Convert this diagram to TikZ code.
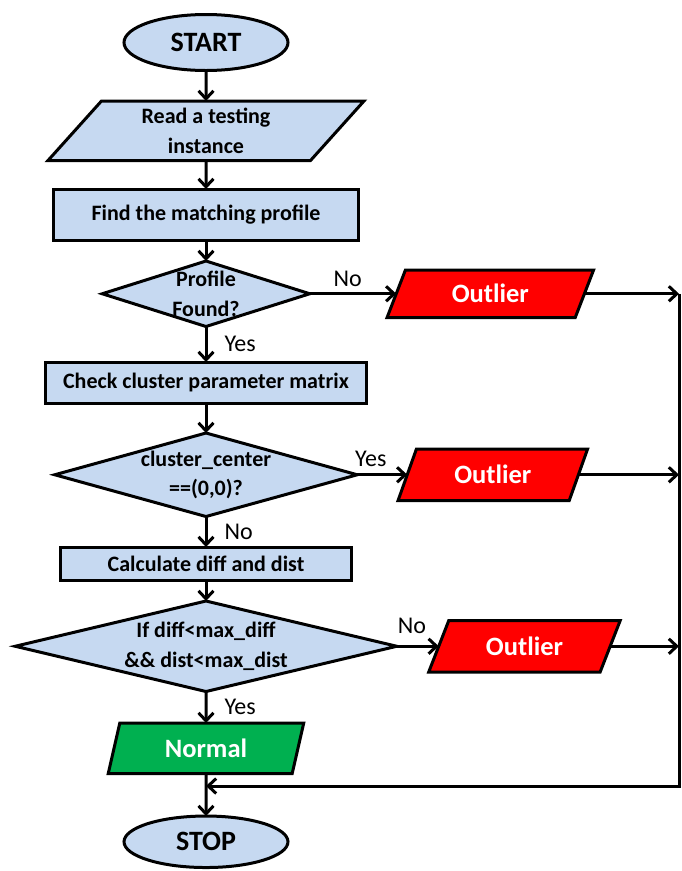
\documentclass[tikz,border=0pt]{standalone}
\usepackage{fontspec}
\setmainfont{Carlito}
\usetikzlibrary{positioning,shapes.geometric,arrows.meta}
\definecolor{boxblue}{RGB}{198,217,241}
\definecolor{outred}{RGB}{255,0,0}
\definecolor{normgreen}{RGB}{0,176,80}
\tikzset{terminal node/.style={ellipse,draw,fill=boxblue,line width=3pt,minimum width=164pt,minimum height=56pt,inner sep=0pt,outer sep=0pt,font=\fontsize{28}{30}\selectfont\bfseries},
	process node/.style={rectangle,draw,fill=boxblue,line width=3pt,inner sep=0pt,outer sep=0pt,font=\fontsize{22}{29}\selectfont\bfseries},
	io node/.style={trapezium,trapezium stretches body,draw,line width=3pt,inner sep=3pt,outer sep=0pt,align=center,font=\fontsize{22}{30}\selectfont\bfseries},
	outlier node/.style={io node,fill=outred,text=white,font=\fontsize{26.5}{30}\selectfont\bfseries,trapezium left angle=53.5,trapezium right angle=126.5},
	decision node/.style={diamond,draw,fill=boxblue,line width=3pt,inner sep=0pt,outer sep=0pt},
	decision text/.style={align=center,inner sep=0pt,font=\fontsize{22}{29.5}\selectfont\bfseries},
	flow/.style={line width=3pt,-{Straight Barb[length=8pt,width=15pt]}},
	answer/.style={inner sep=0pt,font=\fontsize{24}{26}\selectfont},
}
\begin{document}
\begin{tikzpicture}[x=1pt,y=1pt]
	\useasboundingbox (0,0) rectangle (681,-871);
	\node[terminal node] (start) at (206,-42.5) {START};
	\node[io node,fill=boxblue,trapezium left angle=44,trapezium right angle=136,minimum width=316pt,minimum height=59.5pt] (read) [below=30.5pt of start] {Read a testing\\instance};
	\node[process node,minimum width=304.5pt,minimum height=51.5pt] (find) [below=28.5pt of read] {Find the matching profile};
	\node[decision node,minimum width=207.5pt,minimum height=65.5pt,label={[decision text]center:Profile\\Found?}] (found) [below=20.5pt of find] {};
	\node[process node,minimum width=321.5pt,minimum height=41.5pt] (check) [below=35.5pt of found] {Check cluster parameter matrix};
	\node[decision node,minimum width=302.5pt,minimum height=83.5pt,label={[decision text]center:cluster\_center\\==(0,0)?}] (zero) [below=29.5pt of check] {};
	\node[process node,minimum width=290.5pt,minimum height=33.5pt] (calc) [below=30.5pt of zero] {Calculate diff and dist};
	\node[decision node,minimum width=381.5pt,minimum height=90.5pt,label={[decision text]center:If diff<max\_diff\\\&\& dist<max\_dist}] (limit) [below=20.5pt of calc] {};
	\node[io node,fill=normgreen,text=white,font=\fontsize{26.5}{30}\selectfont\bfseries,trapezium left angle=65,trapezium right angle=115,minimum width=195.5pt,minimum height=50.5pt] (normal) [below=31.5pt of limit] {Normal};
	\node[terminal node,minimum height=51.5pt] (stop) [below=42.5pt of normal] {STOP};
	
	% outliers on the right
	\node[outlier node,minimum width=206.5pt,minimum height=47.5pt] (out1) [right=86.5pt of found] {Outlier};
	\node[outlier node,minimum width=189.5pt,minimum height=51.5pt] (out2) [right=50pt of zero] {Outlier};
	\node[outlier node,trapezium left angle=51,trapezium right angle=129,minimum width=191.5pt,minimum height=51.5pt] (out3) [right=42pt of limit] {Outlier};
	\coordinate (corner) at (679,-786);
	
	\path[flow]
	(start) edge (read)
	(read) edge (find)
	(find) edge (found)
	(found.east) edge node[answer,above=6pt,pos=0.44] {No} (out1.west)
	(found) edge node[answer,right=17pt] {Yes} (check)
	(check) edge (zero)
	(zero.east) edge node[answer,above=7pt,pos=0.27] {Yes} (out2.west)
	(zero) edge node[answer,right=17pt] {No} (calc)
	(calc) edge (limit)
	(limit.east) edge node[answer,above=11pt,pos=0.36] {No} (out3.west)
	(limit) edge node[answer,right=17pt] {Yes} (normal)
	(normal) edge (stop);
	
	\draw[flow] (out1.east) -- (out1.east -| corner);
	\draw[flow] (out2.east) -- (out2.east -| corner);
	\draw[flow] (out3.east) -- (out3.east -| corner);
	\draw[flow] (out1.east -| corner) -- (corner) -- (corner -| stop);
\end{tikzpicture}
\end{document}
